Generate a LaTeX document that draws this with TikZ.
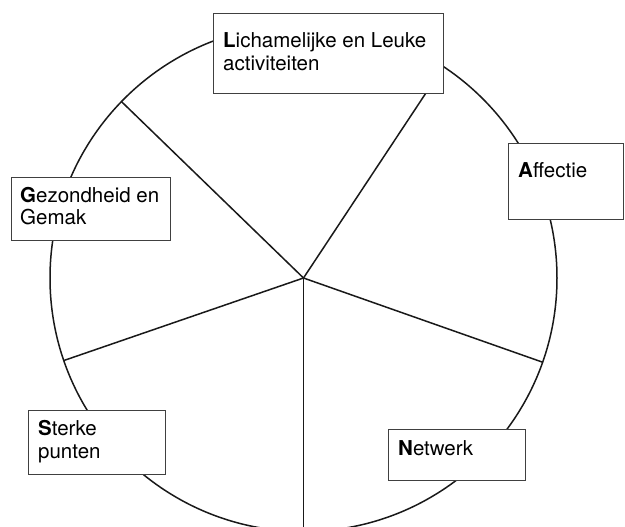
\documentclass[tikz,border=0pt]{standalone}
\usepackage{fontspec}
\setmainfont{TeX Gyre Heros}
\usetikzlibrary{calc}
\begin{document}
\begin{tikzpicture}[x=1pt,y=-1pt,
  spoke/.style={line width=1.5pt,black!90},
  rim/.style={line width=1.5pt,black!90},
  labelbox/.style={draw=black!75,line width=0.9pt,fill=white,rectangle,inner sep=0pt},
  labeltext/.style={anchor=base west,inner sep=0pt,align=left,
    font=\fontsize{20.5}{23}\selectfont}]
\useasboundingbox (0,0) rectangle (625,527);
\coordinate (c) at (303.5,278);
% circle
\draw[rim] (c) circle[radius=253.5pt];
% spokes
\coordinate (pUR) at ($(c)+(56.5:253.5pt)$);
\coordinate (pUL) at ($(c)+(135.9:253.5pt)$);
\coordinate (pL)  at ($(c)+(199:253.5pt)$);
\coordinate (pD)  at ($(c)+(270:253.5pt)$);
\coordinate (pR)  at ($(c)+(340.6:253.5pt)$);
\draw[spoke] (c) -- (pUR);
\draw[spoke] (c) -- (pUL);
\draw[spoke] (c) -- (pL);
\draw[spoke] (c) -- (pD);
\draw[spoke] (c) -- (pR);
% boxes
\node[labelbox,minimum width=230pt,minimum height=80pt] (boxL) at (328,53) {};
\node[labelbox,minimum width=159pt,minimum height=63pt] (boxG) at (90.5,208.5) {};
\node[labelbox,minimum width=115pt,minimum height=76pt] (boxA) at (565.5,181) {};
\node[labelbox,minimum width=137pt,minimum height=64pt] (boxS) at (96.5,442) {};
\node[labelbox,minimum width=137pt,minimum height=51pt] (boxN) at (456.5,454.5) {};
% texts (base anchor = last line's baseline)
\node[labeltext] (tL) at (223,71) {\textbf{L}ichamelijke en Leuke\\activiteiten};
\node[labeltext] (tG) at (20,225) {\textbf{G}ezondheid en\\Gemak};
\node[labeltext] (tA) at (518,178) {\textbf{A}ffectie};
\node[labeltext] (tS) at (38,458) {\textbf{S}terke\\punten};
\node[labeltext] (tN) at (398,455) {\textbf{N}etwerk};
\end{tikzpicture}
\end{document}
